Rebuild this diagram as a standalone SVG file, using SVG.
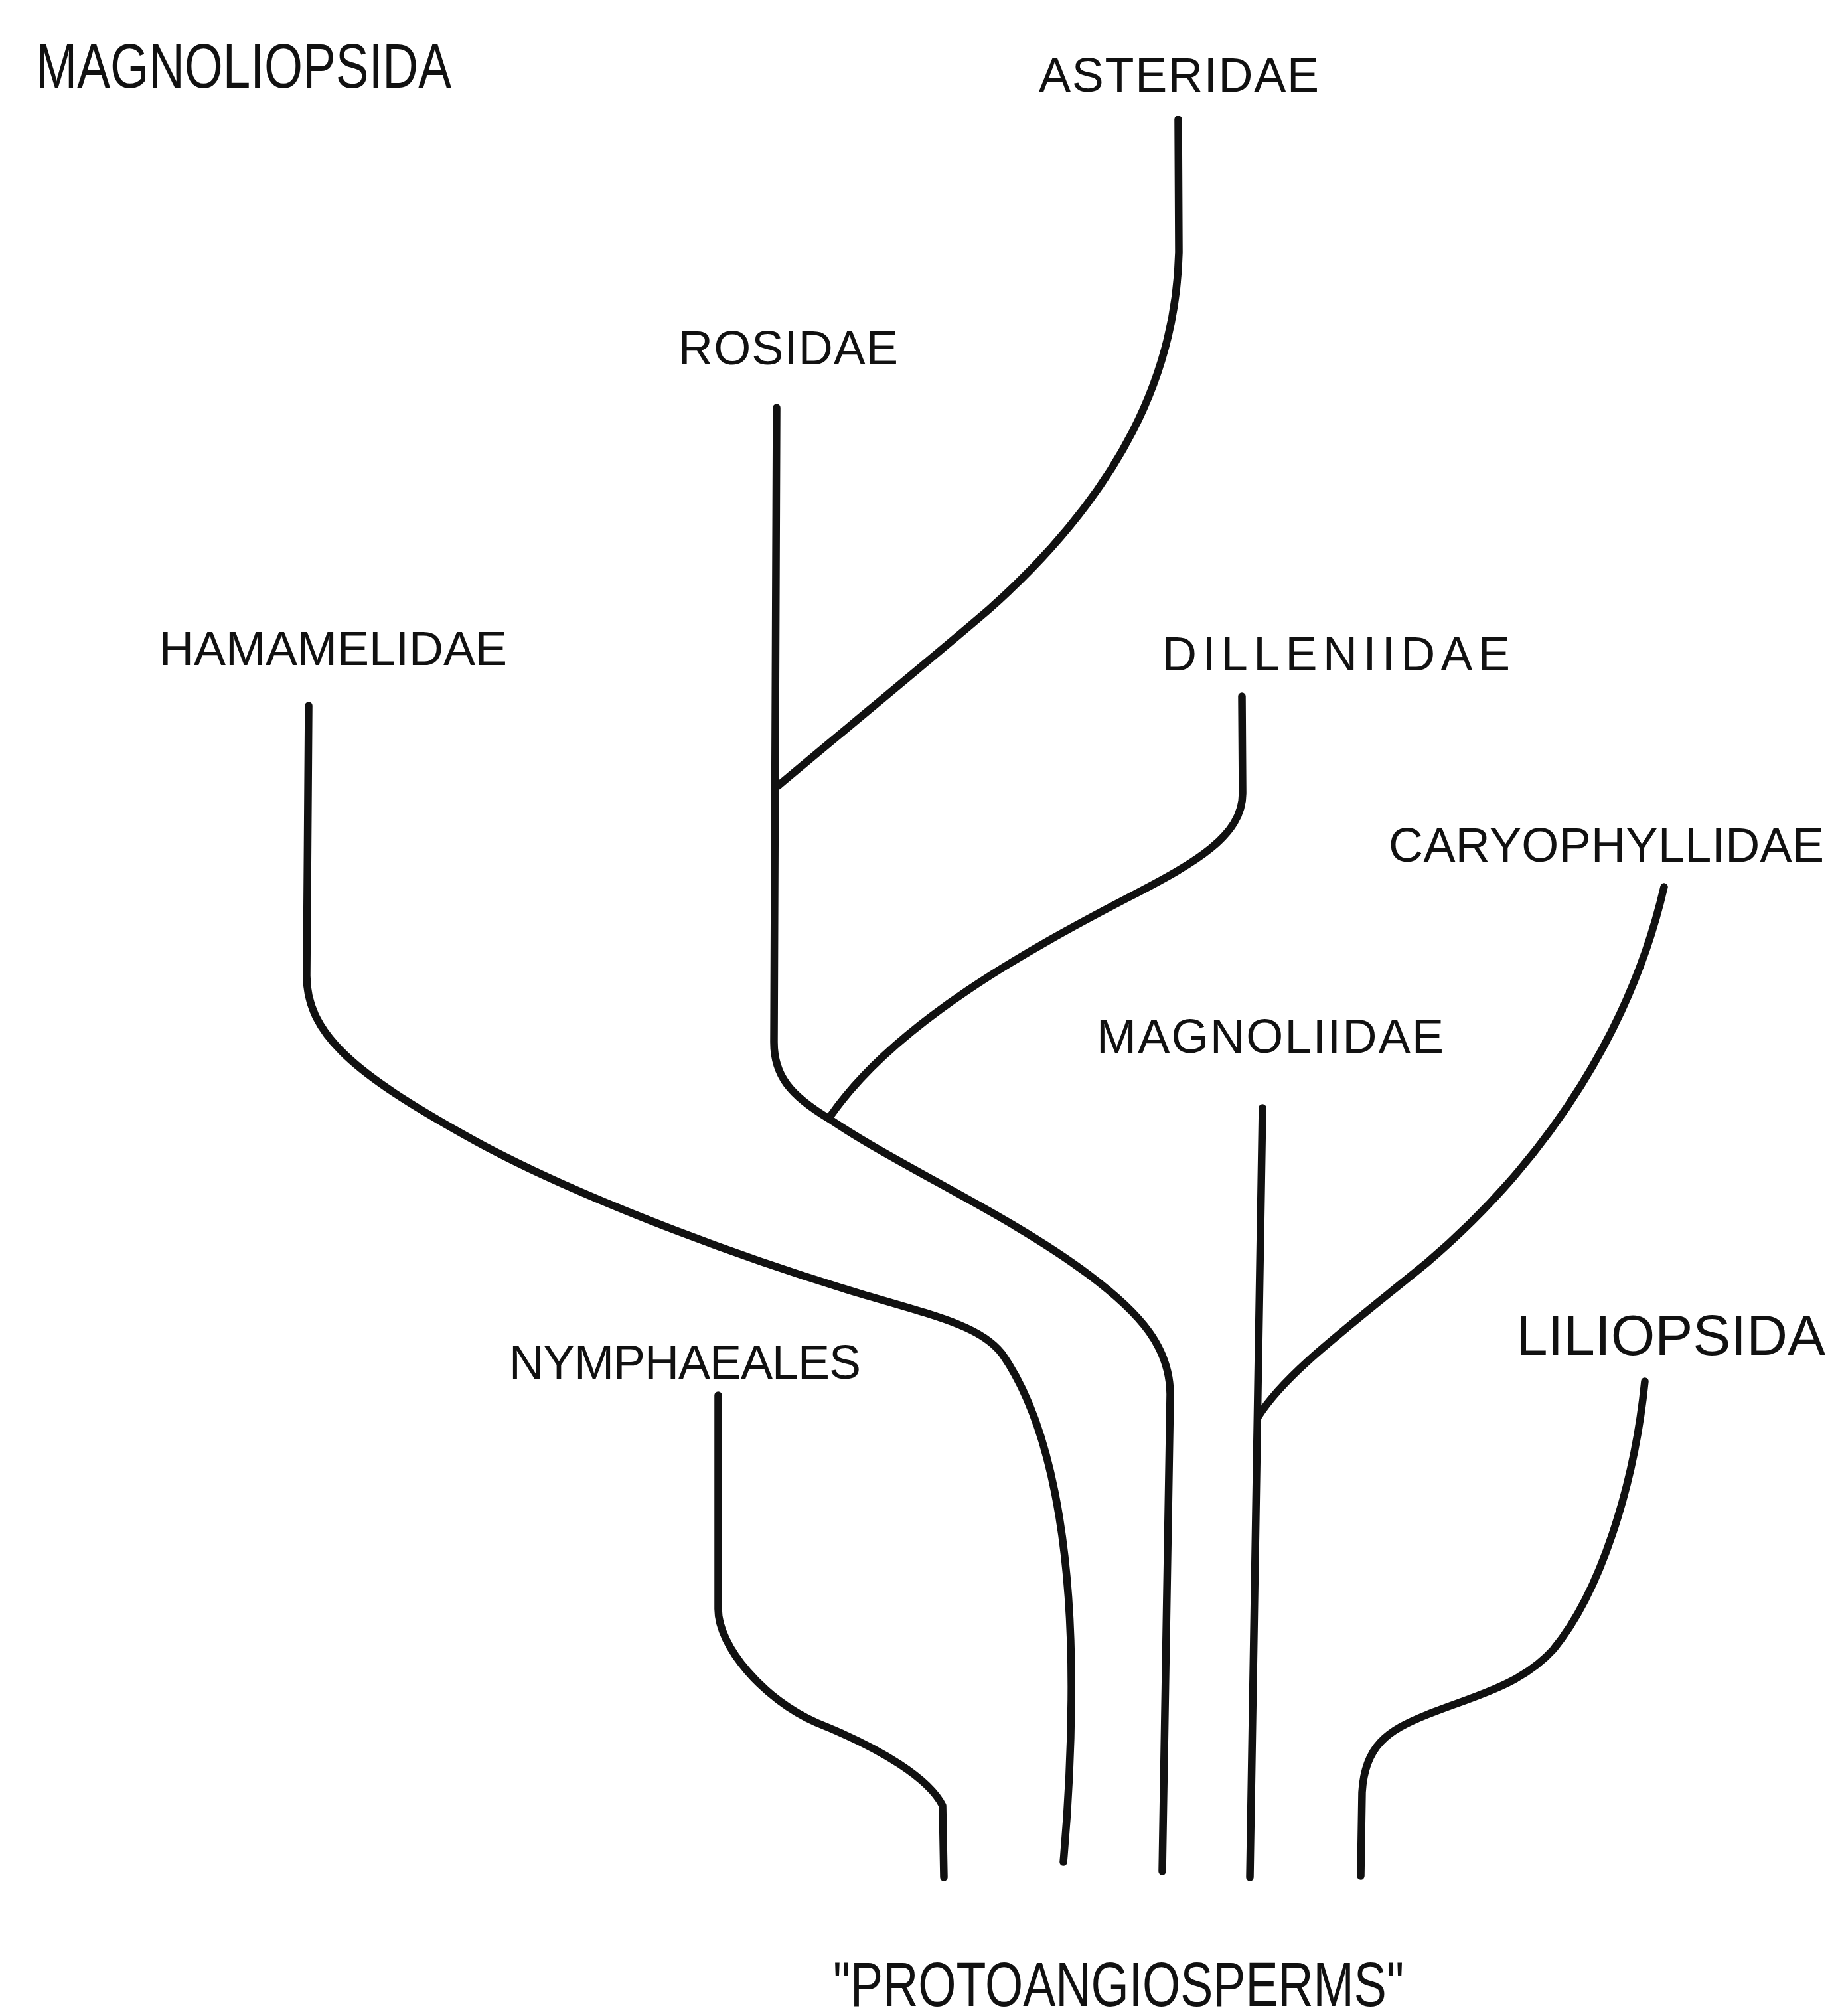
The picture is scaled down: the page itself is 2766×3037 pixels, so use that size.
<svg xmlns="http://www.w3.org/2000/svg" width="2766" height="3037" viewBox="0 0 2766 3037">
<style>
.sub{font-family:"Liberation Sans",Arial,sans-serif;font-size:72px;fill:#111}
.big{font-family:"Liberation Sans Narrow","Liberation Sans",Arial,sans-serif;font-size:95px;fill:#111}
.big2{font-family:"Liberation Sans Narrow","Liberation Sans",Arial,sans-serif;font-size:86px;fill:#111}
.br{fill:none;stroke:#111;stroke-width:11.5;stroke-linecap:round;stroke-linejoin:round}
</style>
<rect width="2766" height="3037" fill="#fff"/>
<g id="connectors">
<path id="asteridae-branch" class="br" d="M1775,180 L1776,380 C1772,560 1690,740 1490,918 C1400,995 1290,1085 1172,1184"/>
<path id="rosidae-branch" class="br" d="M1170,614 L1166,1570 C1166,1620 1190,1650 1250,1686 C1360,1760 1520,1830 1640,1920 C1720,1980 1762,2030 1763,2100 L1751,2819"/>
<path id="dilleniidae-branch" class="br" d="M1871,1049 L1872,1195 C1872,1260 1800,1300 1700,1352 C1550,1430 1350,1540 1252,1680"/>
<path id="hamamelidae-branch" class="br" d="M465,1063 L462,1470 C462,1560 540,1620 700,1710 C850,1795 1100,1890 1300,1950 C1420,1985 1480,2000 1510,2040 C1580,2140 1616,2320 1614,2560 C1613,2680 1606,2760 1602,2805"/>
<path id="nymphaeales-branch" class="br" d="M1082,2102 L1082,2424 C1082,2480 1150,2560 1230,2595 C1330,2635 1400,2680 1420,2720 L1422,2828"/>
<path id="magnoliidae-branch" class="br" d="M1902,1669 L1883,2828"/>
<path id="caryophyllidae-branch" class="br" d="M2507,1336 C2460,1540 2340,1740 2150,1902 C2030,2000 1935,2070 1895,2135"/>
<path id="liliopsida-branch" class="br" d="M2478,2081 C2462,2240 2410,2400 2340,2485 C2290,2540 2220,2555 2150,2583 C2090,2607 2056,2630 2052,2700 L2050,2826"/>
</g>
<g id="magnoliopsida"><text class="big" x="54" y="132" textLength="626" lengthAdjust="spacingAndGlyphs">MAGNOLIOPSIDA</text></g>
<g id="asteridae"><text class="sub" x="1565" y="138" textLength="422" lengthAdjust="spacing">ASTERIDAE</text></g>
<g id="rosidae"><text class="sub" x="1022" y="549" textLength="331" lengthAdjust="spacing">ROSIDAE</text></g>
<g id="hamamelidae"><text class="sub" x="240" y="1002" textLength="524" lengthAdjust="spacing">HAMAMELIDAE</text></g>
<g id="dilleniidae"><text class="sub" x="1751" y="1010" textLength="524" lengthAdjust="spacing">DILLENIIDAE</text></g>
<g id="caryophyllidae"><text class="sub" x="2092" y="1298" textLength="656" lengthAdjust="spacing">CARYOPHYLLIDAE</text></g>
<g id="magnoliidae"><text class="sub" x="1652" y="1586" textLength="523" lengthAdjust="spacing">MAGNOLIIDAE</text></g>
<g id="liliopsida"><text class="big2" x="2284" y="2041" textLength="466" lengthAdjust="spacingAndGlyphs">LILIOPSIDA</text></g>
<g id="nymphaeales"><text class="sub" x="767" y="2077" textLength="530" lengthAdjust="spacing">NYMPHAEALES</text></g>
<g id="protoangiosperms"><text class="big" x="1255" y="3022" textLength="860" lengthAdjust="spacingAndGlyphs">"PROTOANGIOSPERMS"</text></g>
</svg>
